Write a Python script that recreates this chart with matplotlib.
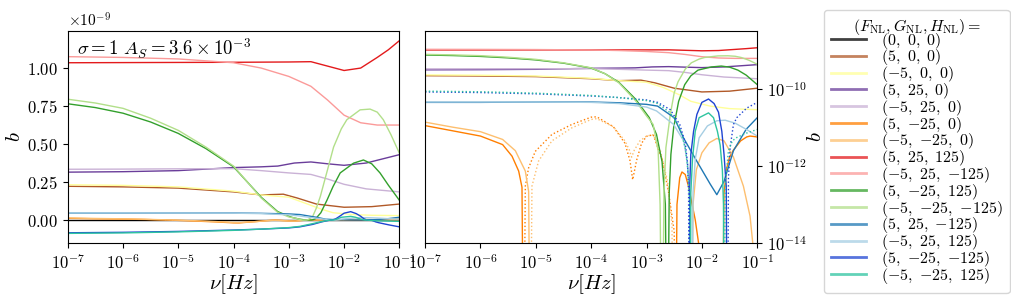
import numpy as np
import matplotlib
matplotlib.use('Agg')
import matplotlib.pyplot as plt
from matplotlib.ticker import FixedLocator, NullLocator, ScalarFormatter

plt.rcParams['mathtext.fontset'] = 'cm'
plt.rcParams['font.family'] = 'serif'
plt.rcParams['font.serif'] = ['cmr10', 'DejaVu Serif']
plt.rcParams['axes.formatter.use_mathtext'] = True
plt.rcParams['axes.unicode_minus'] = True

# ---------------- data: log10(nu [Hz]) and b in units of 1e-9 ----------------
lx_000 = [-7, -1]
b_000 = [0.0, 0.0]

lx_500 = [-7, -6, -5, -4, -3.5, -3.1, -2.85, -2.5, -2.0, -1.5, -1.0]
b_500 = [0.222, 0.218, 0.21, 0.185, 0.165, 0.17, 0.145, 0.105, 0.084, 0.088, 0.105]

lx_m500 = [-7, -6, -5, -4, -3.5, -3.0, -2.7, -2.4, -2.2, -1.85, -1.5, -1.0]
b_m500 = [0.232, 0.228, 0.218, 0.19, 0.165, 0.15, 0.11, 0.07, 0.048, 0.036, 0.031, 0.029]

lx_5_25_0 = [-7, -6, -5, -4, -3.5, -3.2, -2.9, -2.6, -2.3, -2.0, -1.6, -1.0]
b_5_25_0 = [0.315, 0.318, 0.325, 0.345, 0.35, 0.355, 0.375, 0.382, 0.37, 0.36, 0.375, 0.43]

lx_m5_25_0 = [-7, -6, -5, -4, -3.5, -3.0, -2.6, -2.3, -2.0, -1.6, -1.0]
b_m5_25_0 = [0.334, 0.335, 0.337, 0.338, 0.325, 0.31, 0.30, 0.27, 0.235, 0.205, 0.185]

lx_5_m25_0 = [-7, -6.5, -6, -5.6, -5.43, -5.31, -5.25, -5.22, -5.22, -5.19, -5.13, -5.01,
              -4.71, -4.35, -4.0, -3.9, -3.6, -3.39, -3.3, -3.25, -3.18, -3.09, -3.0,
              -2.88, -2.71, -2.6, -2.5, -2.48, -2.48, -2.45, -2.4, -2.36, -2.3, -2.24,
              -2.12, -2.03, -2.0, -2.0, -1.64, -1.64, -1.6, -1.55, -1.5, -1.43, -1.3,
              -1.19, -1.13, -1.0]
b_5_m25_0 = [0.0112, 0.0082, 0.006, 0.0036, 0.0018, 0.00074, 0.00028, 1e-9, -1e-9, -0.0003,
             -0.0009, -0.0024, -0.0066, -0.012, -0.0186, -0.019, -0.0105, -0.0039, -0.0014,
             -0.00044, -0.0014, -0.0039, -0.0059, -0.0065, -0.00135, -0.0002, -0.00002,
             -1e-9, 1e-9, 0.0001, 0.0005, 0.0007, 0.0006, 0.00029, 0.00004, 0.000005,
             1e-9, -1e-9, -1e-9, 1e-9, 0.0002, 0.0009, 0.0017, 0.0026, 0.0045, 0.0057,
             0.006, 0.0057]

lx_m5_m25_0 = [-7, -6.5, -6, -5.6, -5.37, -5.19, -5.13, -5.10, -5.10, -5.07, -4.95, -4.71,
               -4.35, -4.0, -3.9, -3.6, -3.39, -3.31, -3.27, -3.22, -3.12, -3.0, -2.88,
               -2.75, -2.62, -2.54, -2.52, -2.19, -2.19, -2.16, -2.1, -2.0, -1.87, -1.73,
               -1.6, -1.43, -1.25, -1.13, -1.06, -1.0]
b_m5_m25_0 = [0.0138, 0.0102, 0.0078, 0.0049, 0.0025, 0.00074, 0.00022, 1e-9, -1e-9,
              -0.0003, -0.00135, -0.0045, -0.0098, -0.0162, -0.017, -0.0105, -0.0045,
              -0.0026, -0.0017, -0.0026, -0.0045, -0.006, -0.0065, -0.0025, -0.0004,
              -0.00003, -1e-9, -1e-9, 1e-9, 0.0001, 0.0008, 0.0022, 0.004, 0.0052, 0.0045,
              0.0017, 0.0003, 0.00005, 0.000005, 1e-9]

lx_5_25_125 = [-7, -6, -5, -4, -3, -2.6, -2.3, -2.0, -1.7, -1.4, -1.2, -1.0]
b_5_25_125 = [1.035, 1.036, 1.037, 1.038, 1.04, 1.042, 1.013, 0.984, 1.0, 1.07, 1.12, 1.18]

lx_m5_25_m125 = [-7, -6, -5, -4, -3.5, -3, -2.6, -2.3, -2, -1.7, -1.4, -1]
b_m5_25_m125 = [1.075, 1.07, 1.06, 1.035, 1.0, 0.945, 0.88, 0.79, 0.69, 0.64, 0.625, 0.625]

lx_5_m25_125 = [-7, -6.5, -6, -5.5, -5, -4.5, -4, -3.75, -3.5, -3.2, -2.95, -2.82, -2.72,
                -2.66, -2.625, -2.59, -2.56, -2.51, -2.42, -2.31, -2.2, -2.07, -1.83,
                -1.65, -1.5, -1.35, -1.2, -1.0]
b_5_m25_125 = [0.765, 0.74, 0.703, 0.645, 0.57, 0.47, 0.35, 0.25, 0.15, 0.055, 0.018,
               0.0066, 0.0013, 0.0001, 1e-9, 0.0002, 0.002, 0.01, 0.048, 0.13, 0.22, 0.31,
               0.374, 0.395, 0.37, 0.31, 0.23, 0.13]

lx_m5_m25_m125 = [-7, -6.5, -6, -5.5, -5, -4.5, -4, -3.75, -3.5, -3.2, -3.0, -2.88, -2.79,
                  -2.755, -2.72, -2.685, -2.65, -2.57, -2.5, -2.43, -2.3, -2.19, -2.05,
                  -1.95, -1.71, -1.53, -1.4, -1.29, -1.15, -1.0]
b_m5_m25_m125 = [0.795, 0.77, 0.735, 0.67, 0.59, 0.48, 0.355, 0.25, 0.145, 0.05, 0.02,
                 0.012, 0.0025, 0.0001, 1e-9, 0.0002, 0.003, 0.022, 0.08, 0.155, 0.33,
                 0.48, 0.6, 0.66, 0.725, 0.73, 0.71, 0.66, 0.56, 0.44]

lx_5_25_m125 = [-7, -6, -5, -4, -3.5, -3, -2.8, -2.5, -2.33, -2.1, -1.85, -1.73, -1.6,
                -1.43, -1.2, -1.0]
b_5_25_m125 = [0.045, 0.045, 0.046, 0.046, 0.044, 0.04, 0.036, 0.018, 0.0053, 0.0014,
               0.00034, 0.00018, 0.0004, 0.0025, 0.009, 0.018]

lx_m5_25_125 = [-7, -6, -5, -4, -3.5, -3.0, -2.82, -2.51, -2.33, -2.26, -2.22, -2.19,
                -2.16, -2.12, -2.05, -1.9, -1.73, -1.58, -1.4, -1.2, -1.0]
b_m5_25_125 = [0.046, 0.046, 0.046, 0.045, 0.042, 0.034, 0.027, 0.012, 0.0045, 0.0012,
               0.0002, 1e-9, 0.0002, 0.0015, 0.0054, 0.011, 0.015, 0.0155, 0.013, 0.009,
               0.006]

lx_5_m25_m125 = [-7, -6, -5, -4, -3.5, -3, -2.8, -2.57, -2.4, -2.3, -2.26, -2.24, -2.23,
                 -2.23, -2.22, -2.2, -2.15, -2.09, -2.0, -1.88, -1.78, -1.7, -1.64, -1.6,
                 -1.56, -1.54, -1.54, -1.52, -1.49, -1.43, -1.37, -1.19, -1.0]
b_5_m25_m125 = [-0.084, -0.081, -0.075, -0.066, -0.06, -0.052, -0.045, -0.029, -0.012,
                -0.004, -0.0012, -0.0002, -1e-9, 1e-9, 0.0003, 0.002, 0.008, 0.022, 0.045,
                0.055, 0.042, 0.025, 0.008, 0.002, 0.0003, 1e-9, -1e-9, -0.0005, -0.003,
                -0.012, -0.018, -0.032, -0.045]

lx_m5_m25_125 = [-7, -6, -5, -4, -3.5, -3, -2.8, -2.57, -2.4, -2.3, -2.25, -2.22, -2.21,
                 -2.21, -2.2, -2.17, -2.12, -2.05, -1.88, -1.79, -1.72, -1.67, -1.63, -1.61,
                 -1.60, -1.60, -1.58, -1.52, -1.45, -1.37, -1.19, -1.0]
b_m5_m25_125 = [-0.088, -0.085, -0.078, -0.068, -0.06, -0.05, -0.042, -0.024, -0.0098,
                -0.003, -0.0007, -0.0001, -1e-9, 1e-9, 0.0002, 0.0015, 0.008, 0.018, 0.024,
                0.018, 0.008, 0.0035, 0.0008, 0.0001, 1e-9, -1e-9, -0.0003, -0.0025,
                -0.0045, -0.0055, -0.0072, -0.0089]

labels = [r'$(0,\ 0,\ 0)$', r'$(5,\ 0,\ 0)$', r'$({-5},\ 0,\ 0)$', r'$(5,\ 25,\ 0)$',
          r'$({-5},\ 25,\ 0)$', r'$(5,\ {-25},\ 0)$', r'$({-5},\ {-25},\ 0)$',
          r'$(5,\ 25,\ 125)$', r'$({-5},\ 25,\ {-125})$', r'$(5,\ {-25},\ 125)$',
          r'$({-5},\ {-25},\ {-125})$', r'$(5,\ 25,\ {-125})$', r'$({-5},\ 25,\ 125)$',
          r'$(5,\ {-25},\ {-125})$', r'$({-5},\ {-25},\ 125)$']

lx_all = [lx_000, lx_500, lx_m500, lx_5_25_0, lx_m5_25_0, lx_5_m25_0, lx_m5_m25_0,
          lx_5_25_125, lx_m5_25_m125, lx_5_m25_125, lx_m5_m25_m125, lx_5_25_m125,
          lx_m5_25_125, lx_5_m25_m125, lx_m5_m25_125]
b_all = [b_000, b_500, b_m500, b_5_25_0, b_m5_25_0, b_5_m25_0, b_m5_m25_0,
         b_5_25_125, b_m5_25_m125, b_5_m25_125, b_m5_m25_m125, b_5_25_m125,
         b_m5_25_125, b_5_m25_m125, b_m5_m25_125]

colors = ['#000000', '#b15928', '#ffff99', '#6a3d9a', '#cab2d6', '#ff7f00', '#fdbf6f',
          '#e31a1c', '#fb9a99', '#33a02c', '#b2df8a', '#1f78b4', '#a6cee3', '#1f45d2',
          '#2ec4a0']

# ---------------- figure ----------------
fig = plt.figure(figsize=(10.11, 2.96), dpi=100)
axL = fig.add_axes([0.067, 0.179, 0.328, 0.716])
axR = fig.add_axes([0.4205, 0.179, 0.3285, 0.716])

handles = []
for lx, bb, col, lab in zip(lx_all, b_all, colors, labels):
    nu = 10.0 ** np.asarray(lx, dtype=float)
    val = np.asarray(bb, dtype=float) * 1e-9
    h, = axL.plot(nu, val, color=col, lw=1.0)
    handles.append(h)
    pos = np.where(val > 0, val, np.nan)
    neg = np.where(val < 0, -val, np.nan)
    axR.plot(nu, pos, color=col, lw=1.0)
    axR.plot(nu, neg, color=col, lw=1.0, ls=':')

xt = [1e-7, 1e-6, 1e-5, 1e-4, 1e-3, 1e-2, 1e-1]
for ax in (axL, axR):
    ax.set_xscale('log')
    ax.set_xlim(1e-7, 1e-1)
    ax.xaxis.set_major_locator(FixedLocator(xt))
    ax.xaxis.set_minor_locator(NullLocator())
    ax.tick_params(labelsize=12)
    ax.set_xlabel(r'$\nu[Hz]$', fontsize=15, labelpad=0)

fmt = ScalarFormatter(useMathText=True)
axL.yaxis.set_major_formatter(fmt)
axL.set_yticks([0, 0.25e-9, 0.5e-9, 0.75e-9, 1.0e-9])
axL.yaxis.get_offset_text().set_fontsize(11)
axL.set_ylabel(r'$b$', fontsize=15, labelpad=2)
axL.text(0.028, 0.975, r'$\sigma = 1\ A_S = 3.6\times10^{-3}$', transform=axL.transAxes,
         va='top', ha='left', fontsize=13.5)

axR.set_yscale('log')
axR.set_ylim(1e-14, 3.2e-9)
axR.yaxis.set_major_locator(FixedLocator([1e-14, 1e-12, 1e-10]))
axR.yaxis.set_minor_locator(NullLocator())
axR.yaxis.tick_right()
axR.yaxis.set_label_position('right')
axR.set_ylabel(r'$b$', fontsize=15, labelpad=0)

leg = fig.legend(handles, labels, loc='upper left',
                 bbox_to_anchor=(824 / 1011, 1 - 10 / 296), borderaxespad=0,
                 title=r'$(F_{\rm NL}, G_{\rm NL}, H_{\rm NL}) =$', fontsize=11.5,
                 title_fontsize=11.5, labelspacing=-0.2, handlelength=2.2,
                 handletextpad=0.9, borderpad=0.45)
leg._legend_box.sep = -4.8
for lh in leg.get_lines():
    lh.set_linewidth(2.0)
    lh.set_alpha(0.75)

fig.savefig('out.png', dpi=100)
